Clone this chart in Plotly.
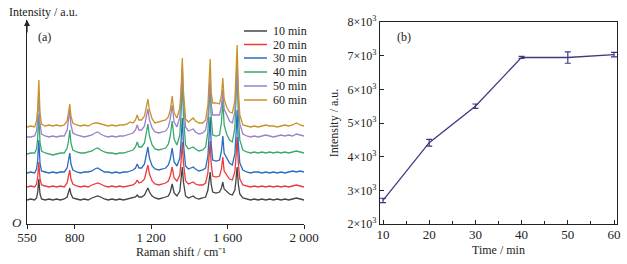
import plotly.graph_objects as go

FONT = "Liberation Serif"

# ---------------- (a) Raman spectra ----------------
wavenumber = [550, 570, 590, 600, 606, 612, 618, 626, 645, 665, 685, 705, 725, 745, 760, 768, 774, 780, 790,
              810, 830, 850, 870, 890, 905, 920, 935, 955, 975, 995, 1015, 1035, 1055, 1075, 1090, 1105, 1118,
              1127, 1136, 1150, 1165, 1175, 1183, 1191, 1205, 1220, 1240, 1260, 1276, 1290, 1300, 1310, 1320,
              1335, 1350, 1357, 1363, 1369, 1380, 1395, 1410, 1420, 1432, 1450, 1470, 1485, 1497, 1504, 1509,
              1514, 1522, 1540, 1558, 1568, 1575, 1582, 1595, 1610, 1625, 1638, 1644, 1650, 1656, 1664, 1680,
              1700, 1720, 1740, 1760, 1780, 1800, 1820, 1840, 1860, 1880, 1900, 1920, 1940, 1960, 1980, 2000]

spec_10 = [24, 25, 24, 26, 32, 45, 30, 25, 24, 25, 24, 25, 24, 25, 27, 31, 36, 30, 26, 25, 24, 25, 24, 26, 27,
           28, 27, 25, 24, 25, 24, 25, 24, 25, 26, 26, 27, 29, 27, 27, 29, 33, 36, 32, 28, 26, 25, 26, 27, 28,
           32, 40, 31, 28, 33, 44, 57, 42, 28, 26, 27, 28, 26, 25, 26, 27, 34, 44, 52, 40, 32, 31, 32, 36, 42,
           35, 33, 30, 29, 34, 44, 57, 40, 30, 26, 25, 24, 25, 24, 25, 24, 25, 24, 25, 24, 25, 24, 25, 26, 25, 24]
spec_20 = [37, 38, 37, 40, 47, 62, 45, 39, 38, 37, 38, 37, 38, 37, 41, 47, 54, 45, 40, 38, 37, 38, 37, 39, 40,
           41, 40, 38, 37, 38, 37, 38, 37, 38, 39, 39, 41, 44, 41, 42, 45, 52, 59, 50, 43, 40, 39, 40, 41, 43,
           48, 57, 46, 43, 49, 64, 82, 61, 43, 40, 41, 42, 40, 39, 39, 41, 51, 69, 83, 61, 48, 47, 48, 55, 67,
           53, 49, 45, 44, 52, 67, 87, 61, 45, 39, 38, 37, 38, 37, 38, 37, 38, 37, 38, 37, 38, 37, 38, 39, 38, 37]
spec_30 = [51, 52, 51, 55, 64, 84, 61, 53, 52, 51, 52, 51, 52, 52, 56, 63, 71, 60, 54, 52, 51, 52, 52, 53, 55,
           56, 54, 52, 52, 51, 52, 51, 52, 52, 53, 54, 56, 60, 56, 56, 60, 69, 77, 66, 58, 55, 54, 55, 56, 59,
           65, 76, 62, 58, 66, 84, 106, 80, 58, 55, 56, 57, 55, 53, 54, 56, 68, 89, 107, 80, 64, 63, 64, 73, 88,
           71, 66, 61, 59, 70, 89, 114, 81, 61, 54, 52, 51, 52, 52, 51, 52, 51, 52, 51, 52, 51, 52, 53, 52, 53, 52]
spec_40 = [70, 71, 71, 75, 86, 110, 82, 73, 71, 70, 69, 70, 71, 71, 76, 84, 94, 81, 74, 72, 71, 71, 72, 73, 75,
           76, 74, 72, 71, 71, 70, 71, 71, 72, 73, 74, 77, 82, 77, 77, 81, 91, 100, 88, 79, 75, 74, 75, 76, 80,
           88, 103, 85, 79, 89, 112, 142, 108, 79, 75, 76, 77, 75, 73, 74, 77, 92, 118, 141, 107, 89, 88, 89, 102, 124,
           99, 90, 84, 82, 96, 120, 154, 110, 84, 74, 72, 71, 72, 71, 72, 71, 72, 71, 72, 71, 72, 71, 72, 73, 72, 71]
spec_50 = [87, 87, 88, 93, 105, 132, 101, 90, 88, 87, 88, 87, 88, 88, 94, 103, 114, 99, 91, 89, 88, 87, 88, 89, 91,
           92, 90, 88, 87, 88, 87, 88, 88, 89, 90, 91, 94, 99, 94, 94, 98, 107, 115, 104, 96, 92, 91, 92, 93, 97,
           105, 119, 102, 97, 107, 129, 157, 124, 97, 93, 94, 95, 92, 90, 91, 94, 107, 129, 147, 120, 109, 109, 109, 118, 134,
           115, 109, 103, 101, 112, 133, 162, 123, 100, 90, 88, 87, 88, 87, 88, 89, 88, 87, 88, 89, 88, 89, 88, 90, 89, 88]
spec_60 = [97, 98, 97, 103, 115, 144, 111, 100, 98, 99, 98, 99, 98, 99, 103, 111, 120, 108, 101, 99, 98, 99, 98, 100, 101,
           101, 100, 99, 98, 99, 98, 99, 99, 100, 102, 101, 104, 109, 104, 104, 108, 117, 125, 114, 105, 101, 102, 103, 104, 107,
           114, 128, 111, 106, 116, 138, 166, 133, 105, 102, 104, 106, 103, 101, 101, 104, 119, 143, 165, 132, 121, 121, 120, 129, 146,
           125, 117, 112, 111, 123, 147, 179, 135, 109, 99, 98, 97, 98, 97, 98, 99, 98, 98, 97, 98, 99, 98, 99, 101, 99, 98]

spectra = [spec_10, spec_20, spec_30, spec_40, spec_50, spec_60]
labels = ["10 min", "20 min", "30 min", "40 min", "50 min", "60 min"]
colors = ["#444444", "#ec3b3b", "#2a6cbf", "#3aa86e", "#9b81cc", "#c8922b"]

x_ticks_a = [550, 800, 1200, 1600, 2000]
x_ticktext_a = ["550", "800", "1 200", "1 600", "2 000"]

# ---------------- (b) Intensity vs time ----------------
time_min = [10, 20, 30, 40, 50, 60]
intensity = [2700, 4415, 5500, 6950, 6945, 7030]
intensity_err = [65, 100, 65, 30, 170, 65]
y_ticks_b = [2000, 3000, 4000, 5000, 6000, 7000, 8000]
y_ticktext_b = ["2×10<sup>3</sup>", "3×10<sup>3</sup>", "4×10<sup>3</sup>", "5×10<sup>3</sup>",
                "6×10<sup>3</sup>", "7×10<sup>3</sup>", "8×10<sup>3</sup>"]

W, H = 627, 264
fig = go.Figure()

for s in spectra:
    assert len(s) == len(wavenumber), len(s)

for s, lab, c in zip(spectra, labels, colors):
    fig.add_trace(go.Scatter(x=wavenumber, y=s, mode="lines", name=lab,
                             line=dict(color=c, width=1.3), xaxis="x", yaxis="y",
                             showlegend=False))

fig.add_trace(go.Scatter(x=time_min, y=intensity, mode="lines", xaxis="x2", yaxis="y2",
                         line=dict(color="#3d3b80", width=1.3),
                         error_y=dict(type="data", array=intensity_err, visible=True,
                                      color="#3d3b80", thickness=1.2, width=3),
                         showlegend=False))

# manual legend for (a)
leg_rows = [31, 44.5, 58, 72, 86, 100]
for lab, c, yr in zip(labels, colors, leg_rows):
    fig.add_shape(type="line", xref="paper", yref="paper",
                  x0=244 / W, x1=267 / W, y0=(H - yr) / H, y1=(H - yr) / H,
                  line=dict(color=c, width=1.5))
    fig.add_annotation(xref="paper", yref="paper", x=271 / W, y=(H - yr) / H,
                       xanchor="left", yanchor="middle", text=lab, showarrow=False,
                       font=dict(family=FONT, size=12, color="#222"))

ann_font = dict(family=FONT, size=12, color="#222")
# y-axis arrow for (a)
fig.add_annotation(xref="x", yref="y", x=550, y=204, ax=0, ay=14, text="", showarrow=True,
                   arrowhead=2, arrowsize=1, arrowwidth=1.2, arrowcolor="#222")
fig.add_annotation(xref="paper", yref="paper", x=7 / W, y=(H - 12) / H, xanchor="left",
                   yanchor="middle", text="Intensity / a.u.", showarrow=False, font=ann_font)
fig.add_annotation(xref="paper", yref="paper", x=44 / W, y=(H - 37) / H, xanchor="center",
                   yanchor="middle", text="(a)", showarrow=False, font=ann_font)
fig.add_annotation(xref="paper", yref="paper", x=404 / W, y=(H - 37) / H, xanchor="center",
                   yanchor="middle", text="(b)", showarrow=False, font=ann_font)
fig.add_annotation(xref="paper", yref="paper", x=17 / W, y=(H - 222) / H, xanchor="center",
                   yanchor="middle", text="<i>O</i>", showarrow=False,
                   font=dict(family=FONT, size=13, color="#222"))
fig.add_annotation(xref="paper", yref="paper", x=181 / W, y=(H - 252) / H, xanchor="center",
                   yanchor="middle", text="Raman shift / cm⁻¹", showarrow=False, font=ann_font)

tickfont = dict(family=FONT, size=13, color="#222")
fig.update_layout(
    width=W, height=H, margin=dict(l=0, r=0, t=0, b=0, autoexpand=False),
    paper_bgcolor="white", plot_bgcolor="white",
    font=dict(family=FONT, color="#222"),
    xaxis=dict(domain=[27 / W, 304 / W], range=[550, 2000], anchor="y", automargin=False,
               showline=True, linecolor="#222", linewidth=1.2, ticks="outside", ticklen=4,
               tickcolor="#222", tickvals=x_ticks_a, ticktext=x_ticktext_a, tickfont=tickfont,
               ticklabelstandoff=-3, showgrid=False, zeroline=False),
    yaxis=dict(domain=[40 / H, 244 / H], range=[0, 204], anchor="x", automargin=False,
               showline=True, linecolor="#222", linewidth=1.2, showticklabels=False,
               ticks="", showgrid=False, zeroline=False),
    xaxis2=dict(domain=[380 / W, 617 / W], range=[9.35, 60.65], anchor="y2", automargin=False,
                showline=True, mirror=True, linecolor="#222", linewidth=1.2,
                ticks="inside", ticklen=4, tickcolor="#222", tick0=10, dtick=10,
                minor=dict(ticks="inside", ticklen=3, dtick=5, tick0=10, tickcolor="#222"),
                tickfont=tickfont, ticklabelstandoff=-2, showgrid=False, zeroline=False,
                title=dict(text="Time / min", font=dict(family=FONT, size=12, color="#222"), standoff=4)),
    yaxis2=dict(domain=[40 / H, 242 / H], range=[2000, 8000], anchor="x2", automargin=False,
                showline=True, mirror=True, linecolor="#222", linewidth=1.2,
                ticks="inside", ticklen=4, tickcolor="#222",
                tickvals=y_ticks_b, ticktext=y_ticktext_b,
                tickfont=dict(family=FONT, size=12, color="#222"),
                showgrid=False, zeroline=False,
                title=dict(text="Intensity / a.u.", font=dict(family=FONT, size=12, color="#222"), standoff=6)),
)

fig.write_html("out.html", config={"displayModeBar": False},
               post_script="document.body.style.margin='0';document.body.style.overflow='hidden';")
